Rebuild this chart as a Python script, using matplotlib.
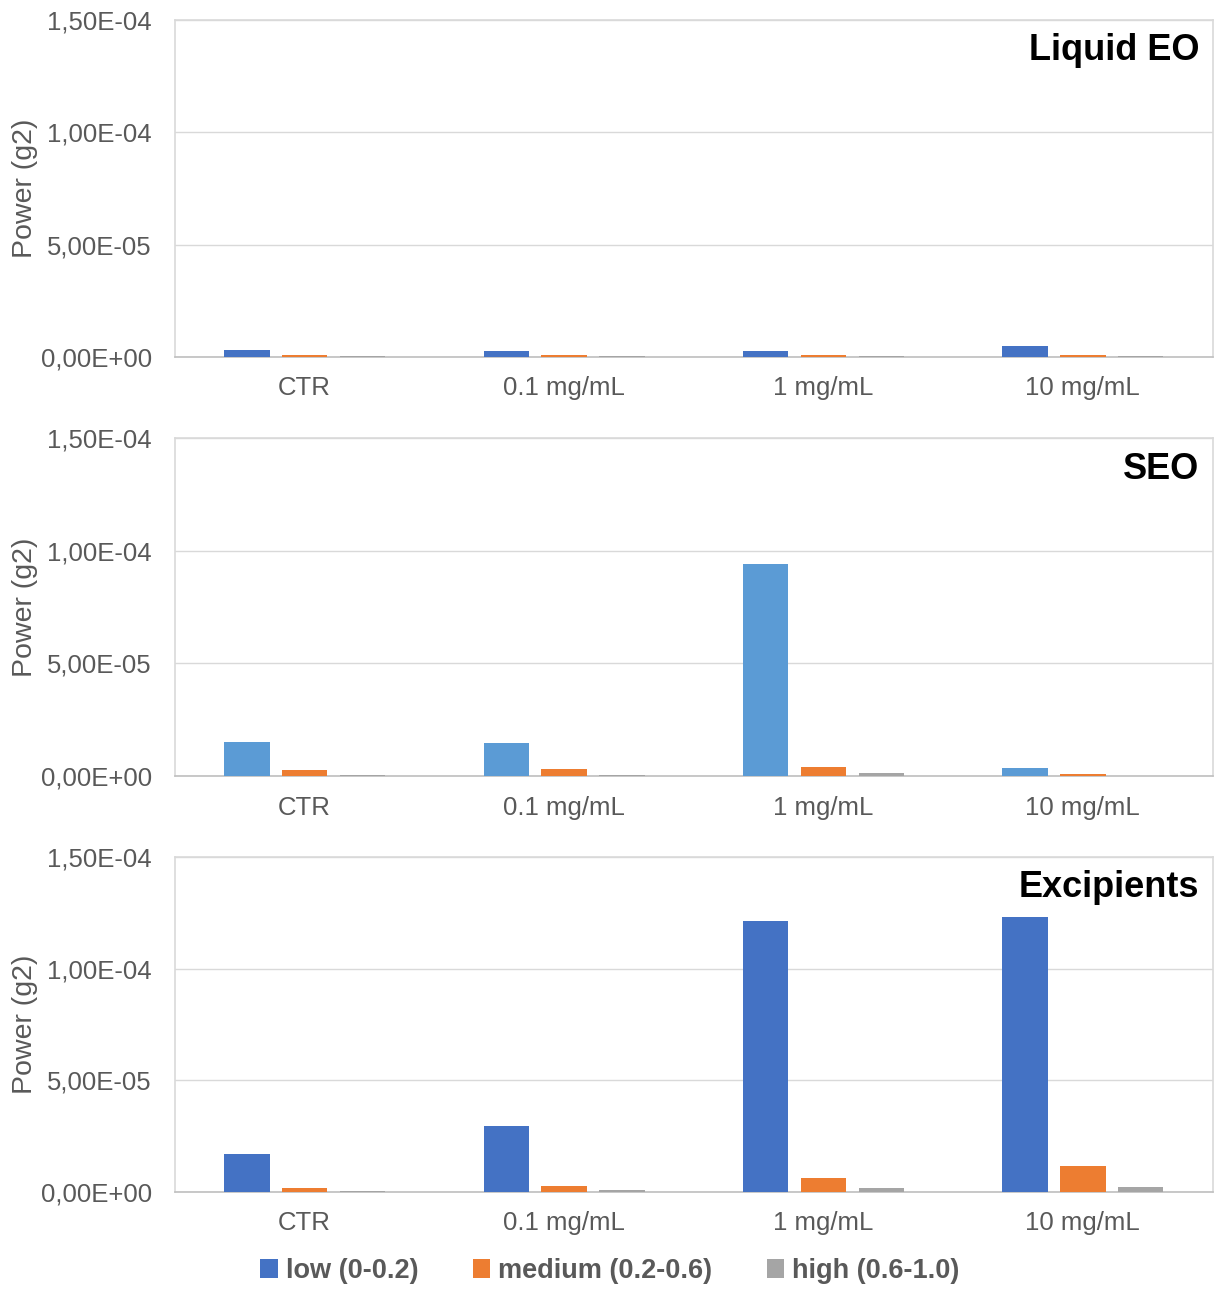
import matplotlib.pyplot as plt
import numpy as np

plt.rcParams['font.family'] = ['Liberation Sans', 'DejaVu Sans']

categories = ["CTR", "0.1 mg/mL", "1 mg/mL", "10 mg/mL"]
series_names = ["low (0-0.2)", "medium (0.2-0.6)", "high (0.6-1.0)"]
panel_titles = ["Liquid EO", "SEO", "Excipients"]

# values (g2)
liquid_low = [3.1e-6, 2.5e-6, 2.8e-6, 4.9e-6]
liquid_med = [1.0e-6, 1.0e-6, 0.9e-6, 1.0e-6]
liquid_high = [0.4e-6, 0.4e-6, 0.4e-6, 0.4e-6]

seo_low = [1.51e-5, 1.46e-5, 9.42e-5, 3.5e-6]
seo_med = [2.5e-6, 3.0e-6, 4.0e-6, 0.8e-6]
seo_high = [0.4e-6, 0.4e-6, 1.2e-6, 0.1e-6]

exc_low = [1.70e-5, 2.96e-5, 1.213e-4, 1.231e-4]
exc_med = [1.8e-6, 2.7e-6, 6.4e-6, 1.16e-5]
exc_high = [0.6e-6, 0.9e-6, 1.6e-6, 2.4e-6]

panels = [
    [liquid_low, liquid_med, liquid_high],
    [seo_low, seo_med, seo_high],
    [exc_low, exc_med, exc_high],
]
yticks = [0, 5e-5, 1e-4, 1.5e-4]
ytick_labels = ["0,00E+00", "5,00E-05", "1,00E-04", "1,50E-04"]

blue = "#4472C4"
light_blue = "#5B9BD5"
orange = "#ED7D31"
grey = "#A5A5A5"
text_grey = "#595959"

fig = plt.figure(figsize=(12.15, 12.9), dpi=100)
left, width = 0.144, 0.854
boxes = [(0.7233, 0.2612), (0.3984, 0.2620), (0.0760, 0.2597)]

x = np.arange(len(categories))
bw = 0.175
offsets = [-0.223, 0, 0.223]
handles = []
for i, (vals, title) in enumerate(zip(panels, panel_titles)):
    ax = fig.add_axes([left, boxes[i][0], width, boxes[i][1]])
    colors = [light_blue if i == 1 else blue, orange, grey]
    for j in range(3):
        b = ax.bar(x + offsets[j], vals[j], width=bw, color=colors[j], zorder=3)
        if i == 2:
            handles.append(b)
    ax.set_xlim(-0.5, 3.5)
    ax.set_ylim(0, 1.5e-4)
    ax.set_yticks(yticks)
    ax.set_yticklabels(ytick_labels)
    ax.set_xticks(x)
    ax.set_xticklabels(categories)
    ax.tick_params(length=0, labelsize=18.5, labelcolor=text_grey)
    ax.tick_params(axis='x', pad=14)
    ax.tick_params(axis='y', pad=16.5)
    ax.grid(axis='y', color="#D9D9D9", linewidth=1, zorder=0)
    for s in ax.spines.values():
        s.set_color("#D9D9D9")
        s.set_linewidth(1.2)
    ax.spines['bottom'].set_color("#BFBFBF")
    ax.set_ylabel("Power (g2)", fontsize=20.5, color=text_grey, labelpad=2)
    ax.text(0.987, 0.96, title, transform=ax.transAxes, ha='right', va='top',
            fontsize=26, fontweight='bold', color='black')

leg = fig.legend(handles, series_names, loc='center', bbox_to_anchor=(0.502, 0.0147),
                 ncol=3, frameon=False, handlelength=0.65, handleheight=0.65,
                 handletextpad=0.3, columnspacing=2.0,
                 prop={'size': 19.5, 'weight': 'bold'})
for t in leg.get_texts():
    t.set_color(text_grey)

fig.savefig("out.png", dpi=100)
